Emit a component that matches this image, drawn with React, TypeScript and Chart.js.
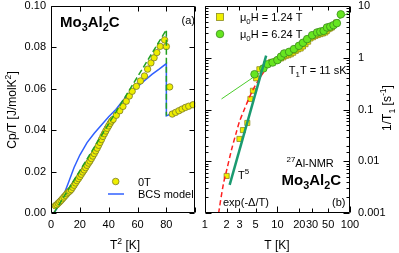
import React, { useEffect, useRef } from 'react';
import { Chart, registerables } from 'chart.js';

Chart.register(...registerables);

const FAMILY = '"Liberation Sans", Arial, Helvetica, sans-serif';

// ---------- Panel (a): Cp/T vs T^2 ----------
const A_T2_0T = [
  3, 4, 5, 6, 7, 8, 9, 10, 11, 12, 13, 14, 15, 16, 17, 18, 19, 20, 21, 22, 23, 24, 25, 26, 27, 28, 29, 30,
  31, 32, 33, 34, 35, 36, 37, 38, 39, 40, 41, 42, 43.1, 45.3, 47.7, 49.9, 52.2, 54.3, 56.3, 59.2, 62, 64.8,
  67, 69.3, 71.5, 73.4, 75.7, 78.8, 80, 82.3, 84.1, 86.4, 88.7, 90.9, 93.2, 95.5, 98.5,
];
const A_CT_0T = [
  0.0035, 0.004, 0.0047, 0.0054, 0.0061, 0.0069, 0.0077, 0.0085, 0.0093, 0.01, 0.0106, 0.0113, 0.0124, 0.0134,
  0.0145, 0.0156, 0.0166, 0.0176, 0.0187, 0.0198, 0.0208, 0.0219, 0.023, 0.0241, 0.0251, 0.0263, 0.0275, 0.0287,
  0.03, 0.0313, 0.0327, 0.0341, 0.0355, 0.037, 0.0383, 0.0396, 0.0409, 0.0421, 0.0433, 0.0444, 0.0452, 0.0472,
  0.0494, 0.0515, 0.054, 0.0565, 0.0588, 0.0612, 0.0638, 0.0662, 0.0695, 0.0725, 0.075, 0.0775, 0.0805, 0.0836,
  0.0804, 0.0609, 0.0478, 0.0486, 0.0494, 0.0502, 0.051, 0.0516, 0.0523,
];
const A_T2_BCS = [2, 4, 6, 9, 12, 16, 20, 25, 30, 35, 40, 45, 50, 55, 60, 65, 70, 75, 80, 80, 85, 90, 95, 100];
const A_CT_BCS = [
  0.0, 0.002, 0.0045, 0.009, 0.0145, 0.022, 0.028, 0.034, 0.0385, 0.0425, 0.0465, 0.05, 0.0545, 0.058, 0.061,
  0.064, 0.067, 0.0695, 0.0722, 0.0469, 0.0484, 0.0499, 0.0514, 0.053,
];
const A_T2_FIT = [2, 80, 80];
const A_CT_FIT = [0.0, 0.0885, 0.047];
const A_X_TICKS = [0, 20, 40, 60, 80, 100];
const A_X_LABELS = ['0', '20', '40', '60', '80', ''];
const A_Y_LABELS = ['0.00', '0.02', '0.04', '0.06', '0.08', '0.10'];

// ---------- Panel (b): 1/T1 vs T ----------
const B_T_124 = [
  2.0, 3.0, 3.35, 3.85, 4.25, 4.6, 5.1, 5.65, 7.0, 8.2, 9.5, 10.3, 11.2, 12.1, 13.1, 14.2, 15.3, 16.5, 17.9,
  19.3, 20.9, 22.5, 24.4, 26.5, 28.6, 31, 33.4, 36, 39.1, 42.3, 45.7, 48, 50.7, 53.5, 56.4, 60, 64.5,
];
const B_R_124 = [
  0.0052, 0.027, 0.04, 0.055, 0.16, 0.23, 0.4, 0.6, 0.75, 0.83, 0.87, 0.92, 0.97, 1.02, 1.09, 1.12, 1.17,
  1.25, 1.36, 1.45, 1.51, 1.65, 1.83, 2.05, 2.36, 2.5, 2.65, 2.75, 2.86, 2.95, 3.08, 3.3, 3.56, 3.7, 3.85,
  4.3, 4.79,
];
const B_T_624 = [
  4.84, 6.4, 7.35, 8.6, 10.0, 11.2, 12.4, 14.5, 16.9, 19.8, 22.5, 25.7, 30.1, 35.2, 39, 43.4, 48.2, 53.5, 59.3,
  65.9, 74.7,
];
const B_R_624 = [
  0.48, 0.62, 0.75, 0.81, 0.9, 1.05, 1.21, 1.3, 1.47, 1.7, 1.95, 2.29, 2.73, 3.08, 3.2, 3.31, 3.85, 4.0, 4.26,
  4.66, 6.9,
];
const B_T_KORR = [1.7, 100];
const B_R_KORR = [0.16, 7.8];
const B_T_T5 = [2.2, 7.0];
const B_R_T5 = [0.0035, 1.1];
const B_T_EXP = [1.55, 1.8, 2.0, 2.33, 2.7, 3.0, 3.5, 4.0, 4.5, 5.0, 5.5, 6.0, 6.5];
const B_R_EXP = [0.001, 0.0036, 0.0067, 0.0165, 0.035, 0.058, 0.1, 0.157, 0.224, 0.296, 0.37, 0.45, 0.53];
const B_X_LABELS = [1, 2, 3, 5, 10, 20, 30, 50, 100];
const B_Y_LABELS = ['0.001', '0.01', '0.1', '1', '10'];

type Part = [string, 'n' | 'sub' | 'sup'];

function drawRich(
  ctx: CanvasRenderingContext2D,
  x: number,
  y: number,
  parts: Part[],
  size: number,
  bold = false,
  align: 'left' | 'center' | 'right' = 'left',
  color = '#000'
) {
  const f = (s: number) => `${bold ? 'bold ' : ''}${s}px ${FAMILY}`;
  const small = size * 0.72;
  let w = 0;
  const widths = parts.map(([t, k]) => {
    ctx.font = f(k === 'n' ? size : small);
    const m = ctx.measureText(t).width;
    w += m;
    return m;
  });
  let cx = align === 'left' ? x : align === 'center' ? x - w / 2 : x - w;
  ctx.fillStyle = color;
  ctx.textBaseline = 'alphabetic';
  ctx.textAlign = 'left';
  parts.forEach(([t, k], i) => {
    ctx.font = f(k === 'n' ? size : small);
    const dy = k === 'sub' ? size * 0.28 : k === 'sup' ? -size * 0.42 : 0;
    ctx.fillText(t, cx, y + dy);
    cx += widths[i];
  });
}

function pts(xs: number[], ys: number[]) {
  return xs.map((x, i) => ({ x, y: ys[i] }));
}

const framePlugin = (kind: 'a' | 'b') => ({
  id: 'frame' + kind,
  afterDraw(chart: any) {
    const ctx: CanvasRenderingContext2D = chart.ctx;
    const { left, right, top, bottom } = chart.chartArea;
    const xs = chart.scales.x;
    const ys = chart.scales.y;
    ctx.save();
    ctx.strokeStyle = '#000';
    ctx.lineWidth = 1;
    ctx.beginPath();
    const L = Math.round(left) + 0.5, R = Math.round(right) - 0.5, T = Math.round(top) + 0.5, B = Math.round(bottom) - 0.5;
    ctx.rect(L, T, R - L, B - T);
    // ticks
    if (kind === 'a') {
      A_X_TICKS.forEach((v) => {
        const px = Math.round(xs.getPixelForValue(v)) + 0.5;
        ctx.moveTo(px, B); ctx.lineTo(px, B - 5);
        ctx.moveTo(px, T); ctx.lineTo(px, T + 5);
      });
      A_Y_LABELS.forEach((s) => {
        const py = Math.round(ys.getPixelForValue(parseFloat(s))) + 0.5;
        ctx.moveTo(L, py); ctx.lineTo(L + 5, py);
        ctx.moveTo(R, py); ctx.lineTo(R - 5, py);
      });
    } else {
      B_X_LABELS.forEach((v) => {
        const px = Math.round(xs.getPixelForValue(v)) + 0.5;
        const len = [1, 10, 100].includes(v) ? 6 : 4;
        ctx.moveTo(px, B); ctx.lineTo(px, B - len);
        ctx.moveTo(px, T); ctx.lineTo(px, T + len);
      });
      ys.ticks.forEach((t: any) => {
        const v = t.value;
        const e = Math.log10(v);
        const major = Math.abs(e - Math.round(e)) < 1e-6;
        const len = major ? 6 : 3;
        const py = Math.round(ys.getPixelForValue(v)) + 0.5;
        ctx.moveTo(L, py); ctx.lineTo(L + len, py);
        ctx.moveTo(R, py); ctx.lineTo(R - len, py);
      });
    }
    ctx.stroke();

    if (kind === 'a') {
      drawRich(ctx, 60, 26.5, [['Mo', 'n'], ['3', 'sub'], ['Al', 'n'], ['2', 'sub'], ['C', 'n']], 15, true);
      drawRich(ctx, 195, 24, [['(a)', 'n']], 11, false, 'right');
      // legend
      ctx.beginPath();
      ctx.arc(115.7, 181.5, 3.3, 0, Math.PI * 2);
      ctx.fillStyle = '#eeee00';
      ctx.fill();
      ctx.strokeStyle = '#7a7a2a';
      ctx.lineWidth = 0.8;
      ctx.stroke();
      drawRich(ctx, 138, 185.5, [['0T', 'n']], 11);
      ctx.beginPath();
      ctx.moveTo(108, 194);
      ctx.lineTo(124, 194);
      ctx.strokeStyle = '#3060ff';
      ctx.lineWidth = 1.5;
      ctx.stroke();
      drawRich(ctx, 138, 198, [['BCS model', 'n']], 11);
      // axis titles
      drawRich(ctx, 125, 249, [['T', 'n'], ['2', 'sup'], [' [K]', 'n']], 12, false, 'center');
      ctx.save();
      ctx.translate(12, 110);
      ctx.rotate(-Math.PI / 2);
      drawRich(ctx, 0, 4.2, [['Cp/T [J/molK', 'n'], ['2', 'sup'], [']', 'n']], 12, false, 'center');
      ctx.restore();
    } else {
      // legend
      ctx.fillStyle = '#f0f000';
      ctx.fillRect(16.5, 13.5, 7, 7);
      ctx.strokeStyle = '#8a8a20';
      ctx.lineWidth = 0.8;
      ctx.strokeRect(16.5, 13.5, 7, 7);
      drawRich(ctx, 40, 21, [['μ', 'n'], ['0', 'sub'], ['H = 1.24 T', 'n']], 11);
      ctx.beginPath();
      ctx.arc(20, 34, 3.8, 0, Math.PI * 2);
      ctx.fillStyle = '#66e620';
      ctx.fill();
      ctx.strokeStyle = '#3b8a1c';
      ctx.stroke();
      drawRich(ctx, 40, 38, [['μ', 'n'], ['0', 'sub'], ['H = 6.24 T', 'n']], 11);
      drawRich(ctx, 146.5, 74, [['T', 'n'], ['1', 'sub'], ['T = 11 sK', 'n']], 11, false, 'right');
      drawRich(ctx, 86.5, 166.5, [['27', 'sup'], ['Al-NMR', 'n']], 11);
      drawRich(ctx, 81.5, 184.5, [['Mo', 'n'], ['3', 'sub'], ['Al', 'n'], ['2', 'sub'], ['C', 'n']], 15, true);
      drawRich(ctx, 38, 179, [['T', 'n'], ['5', 'sup']], 11);
      drawRich(ctx, 23, 205.5, [['exp(-Δ/T)', 'n']], 11);
      drawRich(ctx, 145.5, 205.5, [['(b)', 'n']], 11, false, 'right');
      drawRich(ctx, 77, 249, [['T [K]', 'n']], 12, false, 'center');
      ctx.save();
      ctx.translate(187, 108);
      ctx.rotate(-Math.PI / 2);
      drawRich(ctx, 0, 4.2, [['1/T', 'n'], ['1', 'sub'], [' [s', 'n'], ['-1', 'sup'], [']', 'n']], 12, false, 'center');
      ctx.restore();
    }
    ctx.restore();
  },
});

const tickFont = { family: FAMILY, size: 11 };

export default function App() {
  const refA = useRef<HTMLCanvasElement>(null);
  const refB = useRef<HTMLCanvasElement>(null);

  useEffect(() => {
    Chart.defaults.color = '#000';
    Chart.defaults.font.family = FAMILY;

    const chartA = new Chart(refA.current!, {
      type: 'scatter',
      data: {
        datasets: [
          {
            label: 'fit',
            data: pts(A_T2_FIT, A_CT_FIT),
            showLine: true,
            pointRadius: 0,
            borderColor: '#22a022',
            borderWidth: 1.5,
            borderDash: [6, 3],
            order: 0,
          } as any,
          {
            label: '0T',
            data: pts(A_T2_0T, A_CT_0T),
            showLine: false,
            pointRadius: 3.2,
            pointBackgroundColor: '#eeee00',
            pointBorderColor: '#7a7a2a',
            pointBorderWidth: 0.8,
            order: 1,
          },
          {
            label: 'BCS model',
            data: pts(A_T2_BCS, A_CT_BCS),
            showLine: true,
            pointRadius: 0,
            borderColor: '#3060ff',
            borderWidth: 1.5,
            tension: 0,
            order: 2,
          },
        ],
      },
      options: {
        animation: false,
        responsive: false,
        maintainAspectRatio: false,
        layout: { padding: { top: 6, right: 2, left: 0, bottom: 0 } },
        plugins: { legend: { display: false }, tooltip: { enabled: false } },
        scales: {
          x: {
            type: 'linear',
            min: 0,
            max: 100,
            grid: { display: false, drawTicks: false },
            border: { display: false },
            ticks: {
              stepSize: 20,
              padding: 5,
              font: tickFont,
              color: '#000',
              maxRotation: 0,
              callback: (v: any) => {
                const i = A_X_TICKS.indexOf(Math.round(Number(v)));
                return i >= 0 ? A_X_LABELS[i] : '';
              },
            },
            afterFit: (s: any) => {
              s.height = 40;
              s.paddingLeft = 0;
              s.paddingRight = 0;
            },
          },
          y: {
            type: 'linear',
            min: 0,
            max: 0.1,
            grid: { display: false, drawTicks: false },
            border: { display: false },
            ticks: {
              stepSize: 0.02,
              padding: 5,
              font: tickFont,
              color: '#000',
              callback: (v: any) => A_Y_LABELS[Math.round(Number(v) / 0.02)] ?? '',
            },
            afterFit: (s: any) => {
              s.width = 51;
              s.paddingTop = 0;
              s.paddingBottom = 0;
            },
          },
        },
      },
      plugins: [framePlugin('a')],
    });

    const chartB = new Chart(refB.current!, {
      type: 'scatter',
      data: {
        datasets: [
          {
            label: 'T5',
            data: pts(B_T_T5, B_R_T5),
            showLine: true,
            pointRadius: 0,
            borderColor: '#1a9a70',
            borderWidth: 2.5,
            order: 0,
          },
          {
            label: 'exp',
            data: pts(B_T_EXP, B_R_EXP),
            showLine: true,
            pointRadius: 0,
            borderColor: '#ff2020',
            borderWidth: 1.5,
            borderDash: [5, 3],
            tension: 0.3,
            order: 1,
          } as any,
          {
            label: 'μ0H = 6.24 T',
            data: pts(B_T_624, B_R_624),
            showLine: false,
            pointStyle: 'circle',
            pointRadius: 3.8,
            pointBackgroundColor: '#66e620',
            pointBorderColor: '#3b8a1c',
            pointBorderWidth: 0.8,
            order: 2,
          },
          {
            label: 'μ0H = 1.24 T',
            data: pts(B_T_124, B_R_124),
            showLine: false,
            pointStyle: 'rect',
            pointRadius: 3.6,
            pointBackgroundColor: '#f0f000',
            pointBorderColor: '#8a8a20',
            pointBorderWidth: 0.8,
            order: 3,
          },
          {
            label: 'T1T',
            data: pts(B_T_KORR, B_R_KORR),
            showLine: true,
            pointRadius: 0,
            borderColor: '#4ccc2c',
            borderWidth: 1,
            order: 4,
          },
        ],
      },
      options: {
        animation: false,
        responsive: false,
        maintainAspectRatio: false,
        layout: { padding: { top: 6, right: 0, left: 3, bottom: 0 } },
        plugins: { legend: { display: false }, tooltip: { enabled: false } },
        scales: {
          x: {
            type: 'logarithmic',
            min: 1,
            max: 100,
            grid: { display: false, drawTicks: false },
            border: { display: false },
            ticks: {
              padding: 5,
              font: tickFont,
              color: '#000',
              autoSkip: false,
              maxRotation: 0,
              minRotation: 0,
              callback: (v: any) => {
                const n = Number(v);
                const hit = B_X_LABELS.find((t) => Math.abs(t - n) < 1e-6);
                return hit !== undefined ? String(hit) : '';
              },
            },
            afterFit: (s: any) => {
              s.height = 40;
              s.paddingLeft = 0;
              s.paddingRight = 0;
            },
          },
          y: {
            type: 'logarithmic',
            position: 'right',
            min: 0.001,
            max: 10,
            grid: { display: false, drawTicks: false },
            border: { display: false },
            ticks: {
              padding: 8,
              font: tickFont,
              color: '#000',
              autoSkip: false,
              callback: (v: any) => {
                const e = Math.log10(Number(v));
                const r = Math.round(e);
                return Math.abs(e - r) < 1e-6 ? B_Y_LABELS[r + 3] ?? '' : '';
              },
            },
            afterFit: (s: any) => {
              s.width = 49;
              s.paddingTop = 0;
              s.paddingBottom = 0;
            },
          },
        },
      },
      plugins: [framePlugin('b')],
    });

    return () => {
      chartA.destroy();
      chartB.destroy();
    };
  }, []);

  return (
    <div style={{ position: 'absolute', left: 0, top: 0, width: 399, height: 253, background: '#fff' }}>
      <canvas
        ref={refA}
        width={200}
        height={253}
        style={{ position: 'absolute', left: 0, top: 0, width: 200, height: 253 }}
      />
      <canvas
        ref={refB}
        width={199}
        height={253}
        style={{ position: 'absolute', left: 200, top: 0, width: 199, height: 253 }}
      />
    </div>
  );
}
